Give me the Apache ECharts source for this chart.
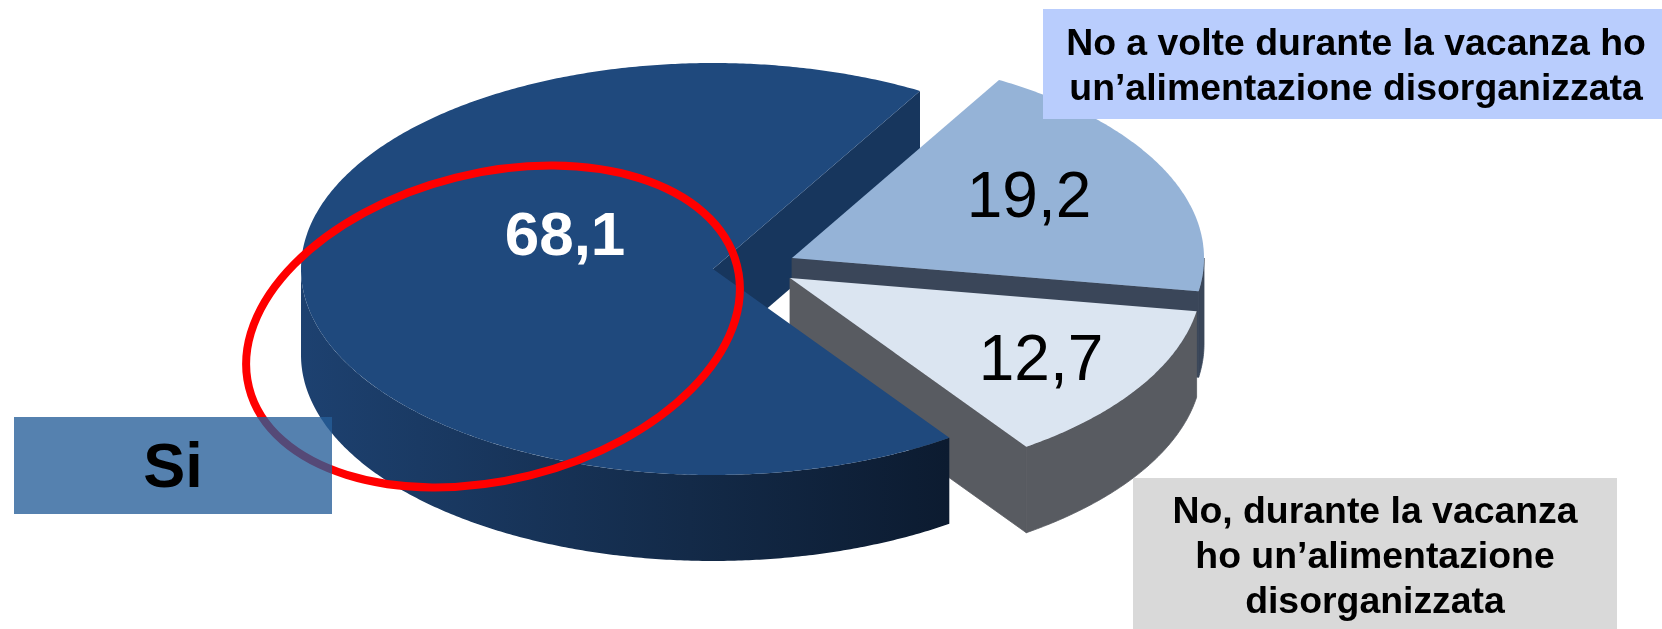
<!DOCTYPE html>
<html>
<head>
<meta charset="utf-8">
<style>html,body{margin:0;padding:0;background:#fff}#c{width:1662px;height:629px}</style>
<script src="https://cdn.jsdelivr.net/npm/echarts@6/dist/echarts.min.js"></script>
</head>
<body>
<div id="c"></div>
<script>
const categories = ['Si', 'No a volte durante la vacanza ho\nun’alimentazione disorganizzata', 'No, durante la vacanza\nho un’alimentazione\ndisorganizzata'];
const values = [68.1, 19.2, 12.7];
const valueLabels = ['68,1', '19,2', '12,7'];

// layout / style (separate from the data)
const CX = 713, CY = 269, RX = 412, RY = 206, DEPTH = 86, START_DEG = 145;
const explode = [[0, 0], [79, -11], [77, 9]];
const topColors = ['#1f497d', '#95b3d7', '#dbe5f1'];
const cutColors = ['#17365d', '#3a4659', '#585b61'];
const labelPos = [[565, 238], [1029, 199], [1041, 362]];
const labelStyle = [['bold', '#fff', 62], ['normal', '#000', 64], ['normal', '#000', 64]];
const outerDark = {
  type: 'linear', x: 301, y: 0, x2: 949, y2: 0, global: true,
  colorStops: [{offset: 0, color: '#1d4170'}, {offset: .6, color: '#132a48'}, {offset: 1, color: '#0c1b30'}]
};
const outerFill = [outerDark, '#3a4659', '#585b61'];

const total = values.reduce((a, b) => a + b, 0);
const pt = (c, deg, dy) => {
  const r = deg * Math.PI / 180;
  return [c[0] + RX * Math.sin(r), c[1] - RY * Math.cos(r) + (dy || 0)];
};
const arc = (c, a, b, dy) => {
  const out = [], n = Math.max(2, Math.ceil(Math.abs(b - a) * 2));
  for (let i = 0; i <= n; i++) out.push(pt(c, a + (b - a) * i / n, dy));
  return out;
};
const poly = (points, fill, z2, seam) => ({
  type: 'polygon', shape: {points},
  style: seam ? {fill, stroke: seam, lineWidth: 0.8} : {fill}, z2
});

function renderItem(params, api) {
  const idx = params.dataIndex;
  let acc = 0;
  for (let i = 0; i < idx; i++) acc += api.value(0, i);
  const a0 = (START_DEG + acc / total * 360) % 360;
  let a1 = a0 + api.value(0) / total * 360;
  const c = [CX + explode[idx][0], CY + explode[idx][1]];
  const kids = [];
  const faceZ = [30, 31, 32][idx];
  kids.push(poly([c].concat(arc(c, a0, a1)), topColors[idx], faceZ));
  const e = pt(c, a1);
  const cut = [c, e, [e[0], e[1] + DEPTH], [c[0], c[1] + DEPTH]];
  if (idx === 0) {
    // inner back wall at the end of the large slice, then the visible outer wall
    kids.push(poly(cut, cutColors[0], 1));
    const up = arc(c, a0, 270), low = arc(c, a0, 270, DEPTH);
    kids.push(poly(up.concat(low.reverse()), outerFill[0], 20));
  } else {
    const zw = 5 + idx * 2;
    const from = Math.max(a0, 90);
    const up = arc(c, from, a1), low = arc(c, from, a1, DEPTH);
    kids.push(poly(up.concat(low.reverse()), outerFill[idx], zw, cutColors[idx]));
    kids.push(poly(cut, cutColors[idx], zw, cutColors[idx]));
  }
  kids.push({
    type: 'text', z2: 40, x: labelPos[idx][0], y: labelPos[idx][1],
    style: {
      text: valueLabels[idx], fill: labelStyle[idx][1], textAlign: 'center', textVerticalAlign: 'middle',
      font: labelStyle[idx][0] + ' ' + labelStyle[idx][2] + 'px "Liberation Sans", Arial, sans-serif'
    }
  });
  return {type: 'group', children: kids};
}

const labelFont = 'bold 37.4px "Liberation Sans", Arial, sans-serif';
const box = (x, y, w, h, fill) => ({type: 'rect', z: 11, shape: {x, y, width: w, height: h}, style: {fill}});
const txt = (x, y, text, font, lh) => ({
  type: 'text', z: 12, x, y,
  style: {text, font, fill: '#000', textAlign: 'center', textVerticalAlign: 'middle', lineHeight: lh}
});

const chart = echarts.init(document.getElementById('c'), null, {width: 1662, height: 629});
chart.setOption({
  animation: false,
  backgroundColor: '#fff',
  tooltip: {show: false},
  series: [{
    type: 'custom', coordinateSystem: 'none', z: 2, silent: true,
    renderItem,
    data: values.map((v, i) => ({name: categories[i], value: v}))
  }],
  graphic: {elements: [
    {type: 'ellipse', z: 10, x: 493, y: 326.5, rotation: 14 * Math.PI / 180,
      shape: {cx: 0, cy: 0, rx: 251.5, ry: 153.5},
      style: {fill: 'none', stroke: '#ff0000', lineWidth: 8}},
    box(14, 417, 318, 97, 'rgba(37,94,152,0.78)'),
    txt(173, 470, categories[0], 'bold 63px "Liberation Sans", Arial, sans-serif', 63),
    box(1043, 9, 619, 110, '#b9cdfd'),
    txt(1356, 67, categories[1], labelFont, 45),
    box(1133, 478, 484, 151, '#d9d9d9'),
    txt(1375, 558, categories[2], labelFont, 45)
  ]}
});
</script>
</body>
</html>
